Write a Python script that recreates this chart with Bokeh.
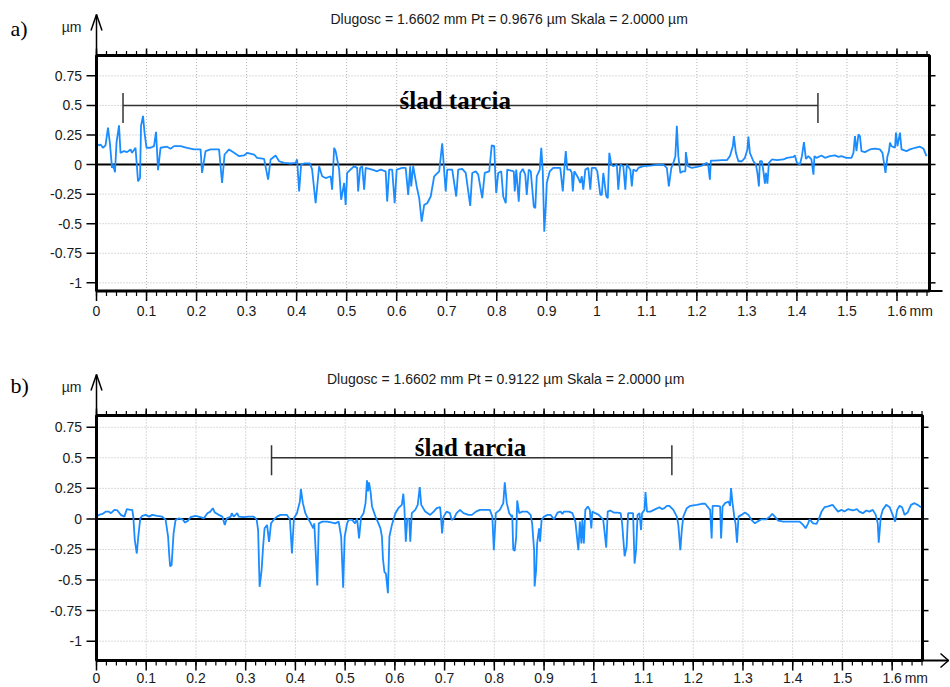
from bokeh.plotting import figure
from bokeh.layouts import column
from bokeh.core.properties import value
from bokeh.embed import file_html
from bokeh.resources import INLINE

# ---------------- data ----------------
# panel a) profile: position [mm], height [um]
xa = [0.000, 0.005, 0.008, 0.013, 0.018, 0.023, 0.027, 0.031, 0.033, 0.037, 0.040, 0.045, 0.048, 0.055,
      0.061, 0.068, 0.071, 0.078, 0.083, 0.087, 0.089, 0.093, 0.096, 0.100, 0.108, 0.115, 0.119, 0.123,
      0.128, 0.141, 0.148, 0.155, 0.168, 0.181, 0.195, 0.208, 0.211, 0.218, 0.228, 0.245, 0.251, 0.256,
      0.265, 0.275, 0.285, 0.295, 0.301, 0.315, 0.321, 0.335, 0.343, 0.348, 0.358, 0.365, 0.375, 0.388,
      0.398, 0.401, 0.405, 0.409, 0.415, 0.427, 0.431, 0.438, 0.445, 0.451, 0.458, 0.468, 0.471, 0.475,
      0.478, 0.485, 0.489, 0.495, 0.498, 0.501, 0.515, 0.521, 0.523, 0.527, 0.531, 0.535, 0.538, 0.551,
      0.561, 0.568, 0.578, 0.581, 0.585, 0.591, 0.596, 0.600, 0.611, 0.618, 0.623, 0.627, 0.629, 0.633,
      0.640, 0.645, 0.650, 0.655, 0.661, 0.668, 0.675, 0.685, 0.691, 0.695, 0.698, 0.701, 0.711, 0.719,
      0.723, 0.731, 0.738, 0.747, 0.751, 0.758, 0.763, 0.771, 0.776, 0.785, 0.790, 0.795, 0.797, 0.799,
      0.803, 0.809, 0.813, 0.818, 0.821,
      0.834, 0.836, 0.839, 0.844, 0.847, 0.852, 0.857, 0.860, 0.864, 0.868, 0.874, 0.877, 0.880, 0.886,
      0.889, 0.892, 0.895, 0.898, 0.900, 0.906, 0.913, 0.927, 0.932, 0.935, 0.938, 0.941, 0.947, 0.950,
      0.952, 0.955, 0.963, 0.967, 0.970, 0.973, 0.977, 0.983, 0.987, 0.990, 0.997, 1.001, 1.007, 1.010,
      1.013, 1.019, 1.022, 1.025, 1.029, 1.033, 1.040, 1.043, 1.047, 1.053, 1.057, 1.060, 1.067, 1.070,
      1.073, 1.079, 1.083, 1.093, 1.107, 1.120, 1.133, 1.140, 1.144, 1.149, 1.153, 1.157, 1.160, 1.163,
      1.167, 1.172, 1.177, 1.178, 1.182, 1.190, 1.200, 1.210, 1.220, 1.223, 1.226, 1.228, 1.236, 1.250,
      1.260, 1.266, 1.272, 1.274, 1.278, 1.283, 1.290, 1.296, 1.301, 1.303, 1.306, 1.313, 1.318, 1.321,
      1.324, 1.326, 1.330, 1.333, 1.336, 1.338, 1.341, 1.344, 1.350, 1.360, 1.373, 1.380, 1.393, 1.396,
      1.400, 1.406, 1.410, 1.414, 1.418, 1.423, 1.429, 1.433, 1.435, 1.439, 1.449, 1.456, 1.466, 1.476,
      1.483, 1.489, 1.499, 1.509, 1.513, 1.516, 1.519, 1.523, 1.526, 1.529, 1.536, 1.546, 1.556, 1.566,
      1.571, 1.575, 1.577, 1.581, 1.584, 1.586, 1.589, 1.596, 1.598, 1.601, 1.606, 1.609, 1.619, 1.626,
      1.636, 1.646, 1.653, 1.659]
ya = [0.179, 0.162, 0.170, 0.142, 0.162, 0.313, 0.170, -0.028, 0.000, -0.065, 0.185, 0.332, 0.099, 0.114,
      0.105, 0.128, 0.099, 0.142, -0.142, -0.114, 0.327, 0.412, 0.270, 0.142, 0.142, 0.156, 0.276, -0.048,
      0.142, 0.151, 0.134, 0.156, 0.156, 0.142, 0.128, 0.128, -0.071, 0.114, 0.128, 0.128, -0.156, 0.085,
      0.128, 0.099, 0.071, 0.077, 0.099, 0.085, 0.057, 0.048, -0.128, 0.043, 0.077, 0.028, 0.014, 0.009,
      0.014, 0.043, -0.227, 0.000, 0.009, 0.009, -0.043, -0.327, -0.014, -0.099, -0.114, -0.099, -0.213, 0.142,
      0.114, -0.043, -0.298, -0.156, -0.341, -0.071, -0.014, -0.028, -0.227, -0.028, -0.014, -0.213, -0.028, -0.043,
      -0.057, -0.043, -0.057, -0.313, -0.043, -0.043, -0.327, -0.043, -0.028, -0.028, -0.256, -0.014, -0.185, -0.014,
      -0.185, -0.284, -0.483, -0.341, -0.327, -0.270, -0.099, -0.057, 0.179, -0.057, -0.227, -0.043, -0.043, -0.270,
      -0.043, -0.037, -0.071, -0.349, -0.071, -0.057, -0.085, -0.284, -0.071, -0.057, 0.162, 0.156, -0.071, -0.241,
      -0.071, -0.057, -0.270, -0.327, -0.043,
      -0.057, -0.227, -0.043, -0.313, -0.071, -0.037, -0.085, -0.256, -0.043, -0.057, -0.355, -0.369, -0.099, -0.043,
      0.142, -0.057, -0.568, -0.355, -0.156, -0.057, -0.028, -0.028, -0.227, -0.043, 0.114, -0.043, -0.043, -0.071,
      -0.227, -0.057, -0.114, -0.156, -0.099, -0.213, -0.043, -0.028, -0.213, -0.028, -0.028, -0.057, -0.256, -0.256,
      -0.071, -0.270, -0.284, 0.099, 0.000, -0.014, 0.000, -0.213, 0.000, -0.014, -0.213, 0.000, -0.043, -0.185,
      -0.043, -0.057, -0.028, -0.014, -0.009, -0.003, 0.000, -0.028, -0.185, -0.028, 0.014, 0.071, 0.327, 0.071,
      -0.071, -0.057, -0.057, 0.105, -0.014, -0.028, -0.020, -0.009, 0.014, -0.014, -0.128, 0.034, 0.034, 0.037,
      0.037, 0.071, 0.156, 0.241, 0.099, 0.028, 0.028, 0.057, 0.128, 0.236, 0.099, 0.028, 0.000, -0.071,
      -0.185, 0.028, 0.028, -0.057, -0.162, -0.071, -0.162, 0.014, 0.043, 0.037, 0.043, 0.057, 0.065, 0.077,
      0.014, 0.000, 0.071, 0.190, 0.048, 0.071, 0.043, -0.085, 0.071, 0.057, 0.077, 0.057, 0.071, 0.077,
      0.065, 0.071, 0.057, 0.057, 0.099, 0.241, 0.114, 0.256, 0.241, 0.114, 0.105, 0.128, 0.134, 0.128,
      0.099, -0.014, -0.071, 0.071, 0.114, 0.185, 0.156, 0.142, 0.270, 0.156, 0.270, 0.128, 0.114, 0.128,
      0.142, 0.151, 0.134, 0.071]

# panel b) profile: position [mm], height [um]
xb = [0.000, 0.005, 0.012, 0.019, 0.025, 0.029, 0.036, 0.042, 0.049, 0.056, 0.061, 0.068, 0.072, 0.074,
      0.077, 0.081, 0.084, 0.088, 0.092, 0.099, 0.106, 0.112, 0.122, 0.132, 0.139, 0.144, 0.146, 0.148,
      0.151, 0.155, 0.159, 0.166, 0.173, 0.178, 0.184, 0.189, 0.199, 0.209, 0.216, 0.223, 0.229, 0.234,
      0.238, 0.246, 0.253, 0.258, 0.262, 0.270, 0.272, 0.276, 0.283, 0.286, 0.296, 0.306, 0.316, 0.322,
      0.325, 0.328, 0.332, 0.335, 0.338, 0.343, 0.347, 0.351, 0.357, 0.363, 0.370, 0.383, 0.389, 0.393,
      0.397, 0.403, 0.409, 0.411, 0.415, 0.420, 0.425, 0.429, 0.436, 0.438, 0.444, 0.447, 0.454, 0.464,
      0.474, 0.480, 0.487, 0.492, 0.496, 0.499, 0.504, 0.507, 0.514, 0.520, 0.524, 0.528, 0.532, 0.537,
      0.541, 0.544, 0.546, 0.548, 0.551, 0.554, 0.561, 0.567, 0.571, 0.574, 0.576, 0.579, 0.582, 0.586,
      0.589, 0.594, 0.601, 0.607, 0.614, 0.617, 0.619, 0.622, 0.625, 0.629, 0.631, 0.634, 0.641, 0.646,
      0.650, 0.653, 0.661, 0.671, 0.678, 0.684, 0.691, 0.693, 0.695, 0.698, 0.704, 0.711, 0.714, 0.719,
      0.724, 0.731, 0.738, 0.748, 0.755, 0.763, 0.771, 0.781, 0.791, 0.796, 0.799, 0.803, 0.811, 0.818,
      0.821, 0.825, 0.830, 0.835,
      0.836, 0.838, 0.841, 0.844, 0.846, 0.850, 0.856, 0.866, 0.873, 0.876, 0.880, 0.881, 0.884, 0.886,
      0.890, 0.892, 0.895, 0.900, 0.907, 0.913, 0.920, 0.927, 0.933, 0.937, 0.940, 0.950, 0.957, 0.963,
      0.969, 0.972, 0.975, 0.977, 0.980, 0.983, 0.988, 0.992, 0.995, 0.997, 1.003, 1.010, 1.019, 1.022,
      1.025, 1.028, 1.033, 1.040, 1.047, 1.054, 1.057, 1.062, 1.066, 1.069, 1.074, 1.079, 1.082, 1.085,
      1.088, 1.092, 1.095, 1.097, 1.102, 1.104, 1.107, 1.114, 1.124, 1.132, 1.137, 1.142, 1.147, 1.152,
      1.160, 1.167, 1.170, 1.174, 1.177, 1.180, 1.187, 1.194, 1.207, 1.217, 1.224, 1.231, 1.234, 1.237,
      1.239, 1.247, 1.254, 1.256, 1.259, 1.264, 1.271, 1.274, 1.276, 1.279, 1.283, 1.285, 1.288, 1.291,
      1.297, 1.304, 1.311, 1.317, 1.324, 1.329, 1.337, 1.347, 1.354, 1.359, 1.364, 1.371, 1.381, 1.391,
      1.401, 1.408, 1.414, 1.421, 1.426, 1.431, 1.434, 1.441, 1.448, 1.453, 1.458, 1.464, 1.471, 1.480,
      1.484, 1.491, 1.498, 1.504, 1.511, 1.521, 1.529, 1.534, 1.541, 1.548, 1.554, 1.561, 1.567, 1.571,
      1.573, 1.577, 1.581, 1.588, 1.595, 1.601, 1.606, 1.610, 1.615, 1.620, 1.625, 1.631, 1.638, 1.645,
      1.651, 1.658]
yb = [0.019, 0.033, 0.041, 0.060, 0.060, 0.047, 0.074, 0.069, 0.033, 0.019, 0.080, 0.074, 0.074, 0.019,
      -0.173, -0.283, -0.146, 0.005, 0.025, 0.033, 0.019, 0.033, 0.025, 0.019, -0.008, -0.146, -0.283, -0.387,
      -0.379, -0.118, -0.008, 0.005, -0.003, -0.030, -0.014, 0.014, 0.025, 0.014, 0.005, 0.047, 0.060, 0.088,
      0.052, 0.033, 0.019, -0.049, 0.005, 0.019, 0.047, 0.019, 0.047, 0.019, 0.014, 0.019, 0.019, -0.003,
      -0.091, -0.555, -0.420, -0.228, -0.077, -0.049, -0.187, -0.036, -0.003, 0.019, 0.033, 0.033, -0.008, -0.283,
      0.005, 0.047, 0.143, 0.245, 0.129, 0.047, 0.005, -0.022, -0.077, -0.036, -0.544, -0.036, -0.022, -0.022,
      -0.030, -0.036, -0.022, -0.146, -0.563, -0.146, -0.036, -0.008, -0.008, -0.036, 0.005, -0.159, 0.014, 0.047,
      0.129, 0.316, 0.225, 0.299, 0.225, 0.102, 0.019, -0.036, -0.077, -0.146, -0.324, -0.434, -0.448, -0.607,
      -0.146, -0.049, 0.047, 0.088, 0.115, 0.206, 0.102, -0.187, 0.005, -0.008, -0.187, 0.047, 0.074, 0.115,
      0.261, 0.115, 0.060, 0.033, 0.060, 0.088, 0.096, 0.005, -0.118, 0.019, 0.060, 0.047, -0.008, 0.005,
      0.047, 0.074, 0.047, 0.033, 0.033, 0.060, 0.074, 0.074, 0.074, 0.019, -0.255, 0.047, 0.074, 0.129,
      0.299, 0.129, 0.047, 0.019,
      0.033, -0.250, -0.261, -0.146, 0.151, 0.047, 0.060, 0.060, 0.033, -0.036, -0.255, -0.552, -0.420, -0.201,
      -0.077, -0.187, -0.008, 0.019, 0.033, 0.033, -0.003, 0.052, 0.060, 0.041, 0.060, 0.060, 0.047, -0.022,
      -0.255, -0.022, -0.201, -0.008, -0.201, 0.074, 0.102, 0.074, -0.077, 0.060, 0.047, 0.033, -0.008, -0.118,
      -0.234, 0.060, 0.069, 0.052, 0.052, 0.047, -0.036, -0.305, -0.228, 0.047, 0.047, 0.047, -0.365, -0.255,
      0.033, 0.047, -0.091, 0.047, 0.074, 0.220, 0.060, 0.060, 0.080, 0.096, 0.080, 0.088, 0.107, 0.107,
      0.074, 0.019, -0.049, -0.255, -0.091, 0.019, 0.088, 0.107, 0.115, 0.124, 0.124, 0.088, 0.074, -0.159,
      0.107, 0.107, 0.102, -0.159, 0.102, 0.129, 0.143, 0.107, 0.253, 0.129, 0.005, -0.036, -0.195, 0.019,
      0.033, 0.052, 0.033, -0.008, -0.036, -0.022, -0.003, -0.003, 0.019, 0.041, 0.019, -0.014, -0.022, -0.022,
      -0.022, -0.022, -0.022, -0.049, -0.077, -0.036, -0.003, -0.036, -0.041, 0.005, 0.060, 0.096, 0.102, 0.115,
      0.096, 0.060, 0.074, 0.060, 0.080, 0.069, 0.080, 0.060, 0.047, 0.069, 0.060, 0.074, 0.033, -0.036,
      -0.195, 0.014, 0.074, 0.115, 0.096, 0.033, -0.022, 0.074, 0.107, 0.096, 0.033, 0.052, 0.115, 0.129,
      0.115, 0.096]

titles = ["Dlugosc = 1.6602 mm  Pt = 0.9676 \u00b5m  Skala = 2.0000 \u00b5m",
          "Dlugosc = 1.6602 mm  Pt = 0.9122 \u00b5m  Skala = 2.0000 \u00b5m"]
tags = ["a)", "b)"]
trace_label = "\u015blad tarcia"
trace_a = [0.053, 1.442]          # ends of the "slad tarcia" marker [mm]
trace_b = [0.352, 1.157]
trace_level = [0.5]               # marker height [um]
label_pos_a = [0.717, 0.543]
label_pos_b = [0.752, 0.585]

x_major = [0, 0.1, 0.2, 0.3, 0.4, 0.5, 0.6, 0.7, 0.8, 0.9, 1.0, 1.1, 1.2, 1.3, 1.4, 1.5, 1.6]
x_labels = ["0", "0.1", "0.2", "0.3", "0.4", "0.5", "0.6", "0.7", "0.8", "0.9", "1",
            "1.1", "1.2", "1.3", "1.4", "1.5", "1.6"]
x_minor = [round(0.02 * i, 2) for i in range(84)]
y_major = [-1, -0.75, -0.5, -0.25, 0, 0.25, 0.5, 0.75]
y_labels = ["-1", "-0.75", "-0.5", "-0.25", "0", "0.25", "0.5", "0.75"]
x_unit = "mm"
y_unit = "\u00b5m"

SANS = "Liberation Sans"
SERIF = "Liberation Serif"
BLUE = "#1a8cff"
INK = "#1a1a1a"
GRID = "#b5b5b5"
W = 950


def panel(xs, ys, tag, title, trace, label_pos, *, H, box, x_end, y_start, y_end,
          tag_dy, xlab_dy, x_arrow_to, x_head):
    L, R, T, B = box                      # plot box inside the canvas [px]
    sx = (R - L) / x_end                  # px per mm
    sy = (B - T) / (y_end - y_start)      # px per um
    dx = lambda px: px / sx
    dy = lambda px: px / sy
    p = figure(width=W, height=H,
               x_range=(-dx(L), x_end + dx(W - R)),
               y_range=(y_start - dy(H - B), y_end + dy(T)),
               x_axis_location=None, y_axis_location=None,
               min_border=0, outline_line_color=None,
               background_fill_color="white", border_fill_color="white",
               output_backend="svg", toolbar_location=None)
    p.grid.visible = False

    nx, ny = len(x_major), len(y_major)
    # dotted grid inside the box
    gx = [v for v in x_major if v != 0]
    p.segment(x0=gx, y0=[y_start] * len(gx), x1=gx, y1=[y_end] * len(gx),
              line_color=GRID, line_dash="1 2", line_width=1)
    gy = [v for v in y_major if v != 0]
    p.segment(x0=[0] * len(gy), y0=gy, x1=[x_end] * len(gy), y1=gy,
              line_color=GRID, line_dash="1 2", line_width=1)
    # zero line
    p.segment(x0=[0], y0=[0], x1=[x_end], y1=[0], line_color="black", line_width=2)

    # profile
    p.line(xs, ys, line_color=BLUE, line_width=1.8)

    # ticks
    nm = len(x_minor)
    p.segment(x0=x_minor, y0=[y_start] * nm, x1=x_minor, y1=[y_start - dy(5)] * nm,
              line_color="black", line_width=1.2)
    p.segment(x0=x_major, y0=[y_start] * nx, x1=x_major, y1=[y_start - dy(10)] * nx,
              line_color="black", line_width=1.5)
    p.segment(x0=x_minor, y0=[y_end] * nm, x1=x_minor, y1=[y_end + dy(4.5)] * nm,
              line_color="black", line_width=1.2)
    p.segment(x0=x_major, y0=[y_end] * nx, x1=x_major, y1=[y_end + dy(7)] * nx,
              line_color="black", line_width=1.5)
    p.segment(x0=[0] * ny, y0=y_major, x1=[-dx(10)] * ny, y1=y_major,
              line_color="black", line_width=1.5)
    p.segment(x0=[x_end] * ny, y0=y_major, x1=[x_end + dx(6)] * ny, y1=y_major,
              line_color="black", line_width=1.5)

    # box
    p.quad(left=[0], right=[x_end], bottom=[y_start], top=[y_end],
           fill_color=None, line_color="black", line_width=3)

    # axis arrows
    tip = y_end + dy(41)
    arm = tip - dy(16)
    p.line([0, 0], [y_end, tip], line_color="black", line_width=1.5)
    p.line([-dx(5.5), 0, dx(5.5)], [arm, tip, arm], line_color="black", line_width=1.5)
    xt = x_end + dx(x_arrow_to - R)
    p.line([x_end, xt], [y_start, y_start], line_color="black", line_width=2)
    if x_head:
        p.line([xt - dx(8), xt, xt - dx(8)], [y_start + dy(7), y_start, y_start - dy(7)],
               line_color="black", line_width=1.5)

    # tick labels
    txt = dict(text_font=value(SANS), text_font_size="14px", text_color=INK)
    p.text(x=x_major, y=[y_start - dy(xlab_dy)] * nx, text=x_labels,
           text_align="center", text_baseline="middle", **txt)
    p.text(x=[x_major[-1] + dx(12.5)], y=[y_start - dy(xlab_dy)], text=[x_unit],
           text_align="left", text_baseline="middle", **txt)
    p.text(x=[-dx(14.5)] * ny, y=y_major, text=y_labels,
           text_align="right", text_baseline="middle", **txt)

    # texts above the box
    p.text(x=[x_end / 2], y=[y_end + dy(37)], text=[title],
           text_align="center", text_baseline="middle", **txt)
    p.text(x=[-dx(15)], y=[y_end + dy(29)], text=[y_unit],
           text_align="right", text_baseline="middle", **txt)
    p.text(x=[-dx(86)], y=[y_end + dy(tag_dy)], text=[tag], text_align="left",
           text_baseline="middle", text_font=value(SERIF), text_font_size="22px",
           text_color="black")

    # "slad tarcia" marker
    lvl = trace_level[0]
    p.segment(x0=[trace[0]], y0=[lvl], x1=[trace[1]], y1=[lvl], line_color="#333333", line_width=1.5)
    p.segment(x0=trace, y0=[lvl - dy(17.5)] * 2, x1=trace, y1=[lvl + dy(12.5)] * 2,
              line_color="#333333", line_width=1.5)
    p.text(x=[label_pos[0]], y=[label_pos[1]], text=[trace_label], text_align="center",
           text_baseline="alphabetic", text_font=value(SERIF), text_font_style="bold",
           text_font_size="25px", text_color="black")
    return p


# panel a) occupies window rows 0..335, panel b) rows 335..687
pa = panel(xa, ya, tags[0], titles[0], trace_a, label_pos_a, H=335, box=(96, 929, 55, 290.5),
           x_end=1.665, y_start=-1.069, y_end=0.922, tag_dy=27, xlab_dy=20,
           x_arrow_to=942, x_head=False)
pb = panel(xb, yb, tags[1], titles[1], trace_b, label_pos_b, H=352, box=(96, 922, 80, 325),
           x_end=1.661, y_start=-1.158, y_end=0.846, tag_dy=30, xlab_dy=17,
           x_arrow_to=948, x_head=True)

layout = column(pa, pb, spacing=0)
open("out.html", "w").write(file_html(layout, INLINE))
